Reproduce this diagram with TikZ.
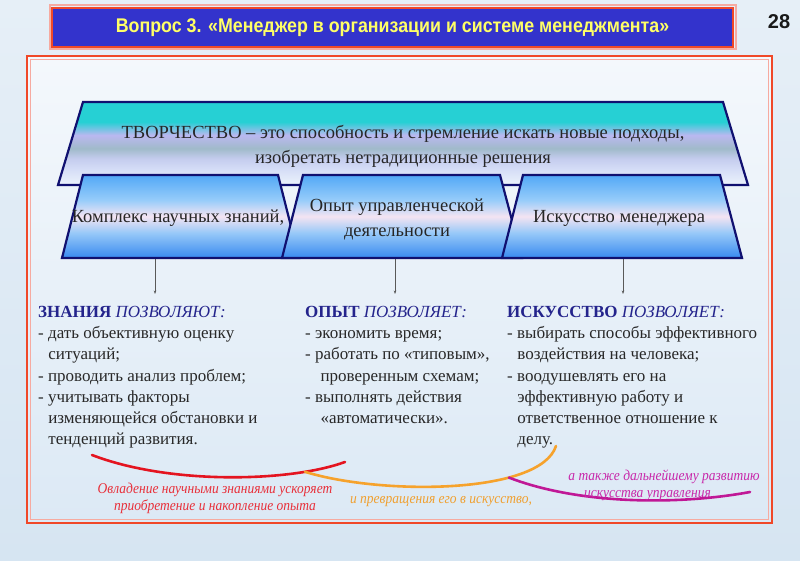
\documentclass[tikz,border=0pt]{standalone}
\usepackage{fontspec}
\setmainfont{Liberation Serif}
\newfontfamily\titlefont[FakeStretch=0.9]{Liberation Sans}
\newfontfamily\numfont{Liberation Sans}
\newfontfamily\capfont[FakeStretch=0.9]{Liberation Serif}
\usetikzlibrary{arrows.meta}
\definecolor{bgtop}{RGB}{230,239,247}
\definecolor{bgbot}{RGB}{214,229,242}
\definecolor{intop}{RGB}{244,248,252}
\definecolor{inbot}{RGB}{220,233,245}
\definecolor{titleblue}{RGB}{51,51,204}
\definecolor{titleyellow}{RGB}{255,255,102}
\definecolor{framered}{RGB}{240,72,40}
\definecolor{glowpink}{RGB}{246,170,160}
\definecolor{navy}{RGB}{16,16,112}
\definecolor{headblue}{RGB}{36,36,140}
\definecolor{bodytext}{RGB}{40,40,40}
\definecolor{curvered}{RGB}{228,20,32}
\definecolor{curveorange}{RGB}{246,162,44}
\definecolor{curvemag}{RGB}{192,24,150}
\definecolor{capred}{RGB}{232,48,58}
\definecolor{caporange}{RGB}{240,160,48}
\definecolor{capmag}{RGB}{200,40,170}
\definecolor{tA}{RGB}{236,243,252}
\definecolor{tF}{RGB}{212,220,246}
\definecolor{tB}{RGB}{196,204,238}
\definecolor{tC}{RGB}{160,186,202}
\definecolor{tD}{RGB}{186,184,240}
\definecolor{tE}{RGB}{38,208,212}
\definecolor{bA}{RGB}{56,138,240}
\definecolor{bA2}{RGB}{150,200,248}
\definecolor{bB}{RGB}{244,228,242}
\definecolor{bC2}{RGB}{150,204,250}
\definecolor{bC}{RGB}{82,168,246}
\pgfdeclareverticalshading{topshade}{100bp}{color(0bp)=(tA); color(25bp)=(tA); color(35bp)=(tF); color(41bp)=(tB); color(47bp)=(tC); color(55bp)=(tD); color(63bp)=(tE); color(75bp)=(tE); color(100bp)=(tE)}
\pgfdeclareverticalshading{boxshade}{100bp}{color(0bp)=(bA); color(25bp)=(bA); color(40bp)=(bA2); color(50bp)=(bB); color(60bp)=(bC2); color(75bp)=(bC); color(100bp)=(bC)}
\tikzset{
  trapline/.style={draw=navy, line width=2.2pt, line join=miter},
  toptrap/.style={trapline, shading=topshade},
  boxtrap/.style={trapline, shading=boxshade},
  traptext/.style={font=\fontsize{18.5}{25}\selectfont, text=black!85, align=center, inner sep=0pt},
  block/.style={anchor=north west, align=left, inner sep=0pt, text=bodytext, font=\fontsize{17}{21.2}\selectfont},
  pointer/.style={draw=black!65, line width=0.7pt, -{Stealth[length=3.5pt,width=2.6pt]}},
  curve/.style={line width=2.6pt, line cap=round},
  caption/.style={align=center, inner sep=0pt, font=\capfont\itshape\fontsize{15}{17}\selectfont}
}
\begin{document}
\begin{tikzpicture}[x=1pt,y=-1pt]
\useasboundingbox (0,0) rectangle (800,561);
\shade[top color=bgtop, bottom color=bgbot] (0,0) rectangle (800,561);
% title
\draw[glowpink, line width=2pt] (49.5,5.5) rectangle (735.5,49.5);
\node[fill=titleblue, draw=framered, line width=2.4pt, minimum width=681pt, minimum height=39pt, inner sep=0pt,
  text=titleyellow, font=\titlefont\bfseries\fontsize{19.8}{22}\selectfont] (title) at (392.5,27.5)
  {Вопрос 3. «Менеджер в организации и системе менеджмента»};
\node[font=\numfont\bfseries\fontsize{20}{24}\selectfont, text=black!90, inner sep=0pt] (num) at (779,22) {28};
% frame
\shade[top color=intop, bottom color=inbot] (27,56) rectangle (772,523);
\draw[framered, line width=2.6pt] (27,56) rectangle (772,523);
\draw[glowpink, line width=1.4pt] (30.5,59.5) rectangle (768.5,519.5);
% top trapezoid
\path[toptrap] (83,102) -- (723,102) -- (748,185) -- (58,185) -- cycle;
\node[traptext] (creat) at (403,146) {ТВОРЧЕСТВО – это способность и стремление искать новые подходы,\\изобретать нетрадиционные решения};
% three boxes
\path[boxtrap] (83,175) -- (278,175) -- (299,258) -- (62,258) -- cycle;
\path[boxtrap] (303,175) -- (500,175) -- (522,258) -- (282,258) -- cycle;
\path[boxtrap] (523,175) -- (720,175) -- (742,258) -- (502,258) -- cycle;
\node[traptext] (know) at (178,218) {Комплекс научных знаний,};
\node[traptext] (exper) at (397,219) {Опыт управленческой\\деятельности};
\node[traptext] (art) at (619,218) {Искусство менеджера};
% pointers
\coordinate (pLs) at (155,259.5); \coordinate (pLe) at (155,294);
\coordinate (pMs) at (395,259.5); \coordinate (pMe) at (395,294);
\coordinate (pRs) at (623,259.5); \coordinate (pRe) at (623,294);
\draw[pointer] (pLs) -- (pLe);
\draw[pointer] (pMs) -- (pMe);
\draw[pointer] (pRs) -- (pRe);
% text blocks
\node[block] (knowtxt) at (38,306) {{\color{headblue}\bfseries ЗНАНИЯ} {\color{headblue}\itshape ПОЗВОЛЯЮТ:}\\
- дать объективную оценку\\
\hspace*{0.6em}ситуаций;\\
- проводить анализ проблем;\\
- учитывать факторы\\
\hspace*{0.6em}изменяющейся обстановки и\\
\hspace*{0.6em}тенденций развития.};
\node[block] (expertxt) at (305,306) {{\color{headblue}\bfseries ОПЫТ} {\color{headblue}\itshape ПОЗВОЛЯЕТ:}\\
- экономить время;\\
- работать по «типовым»,\\
\hspace*{0.9em}проверенным схемам;\\
- выполнять действия\\
\hspace*{0.9em}«автоматически».};
\node[block] (arttxt) at (507,306) {{\color{headblue}\bfseries ИСКУССТВО} {\color{headblue}\itshape ПОЗВОЛЯЕТ:}\\
- выбирать способы эффективного\\
\hspace*{0.6em}воздействия на человека;\\
- воодушевлять его на\\
\hspace*{0.6em}эффективную работу и\\
\hspace*{0.6em}ответственное отношение к\\
\hspace*{0.6em}делу.};
% curves
\draw[curve, curvered] (92,455) .. controls (170,485) and (290,482) .. (345,462) coordinate[pos=0.8] (rj);
\draw[curve, curveorange] (rj) .. controls (380,495) and (540,495) .. (556,446) coordinate[pos=0.7] (oj);
\draw[curve, curvemag] (oj) .. controls (580,505) and (680,505) .. (750,492);
% captions
\node[caption, text=capred] (cap1) at (215,498) {Овладение научными знаниями ускоряет\\приобретение и накопление опыта};
\node[caption, text=caporange] (cap2) at (441,502) {и превращения его в искусство,};
\node[caption, text=capmag] (cap3) at (664,485) {а также дальнейшему развитию\\\hspace*{-2.2em}искусства управления};
\end{tikzpicture}
\end{document}
